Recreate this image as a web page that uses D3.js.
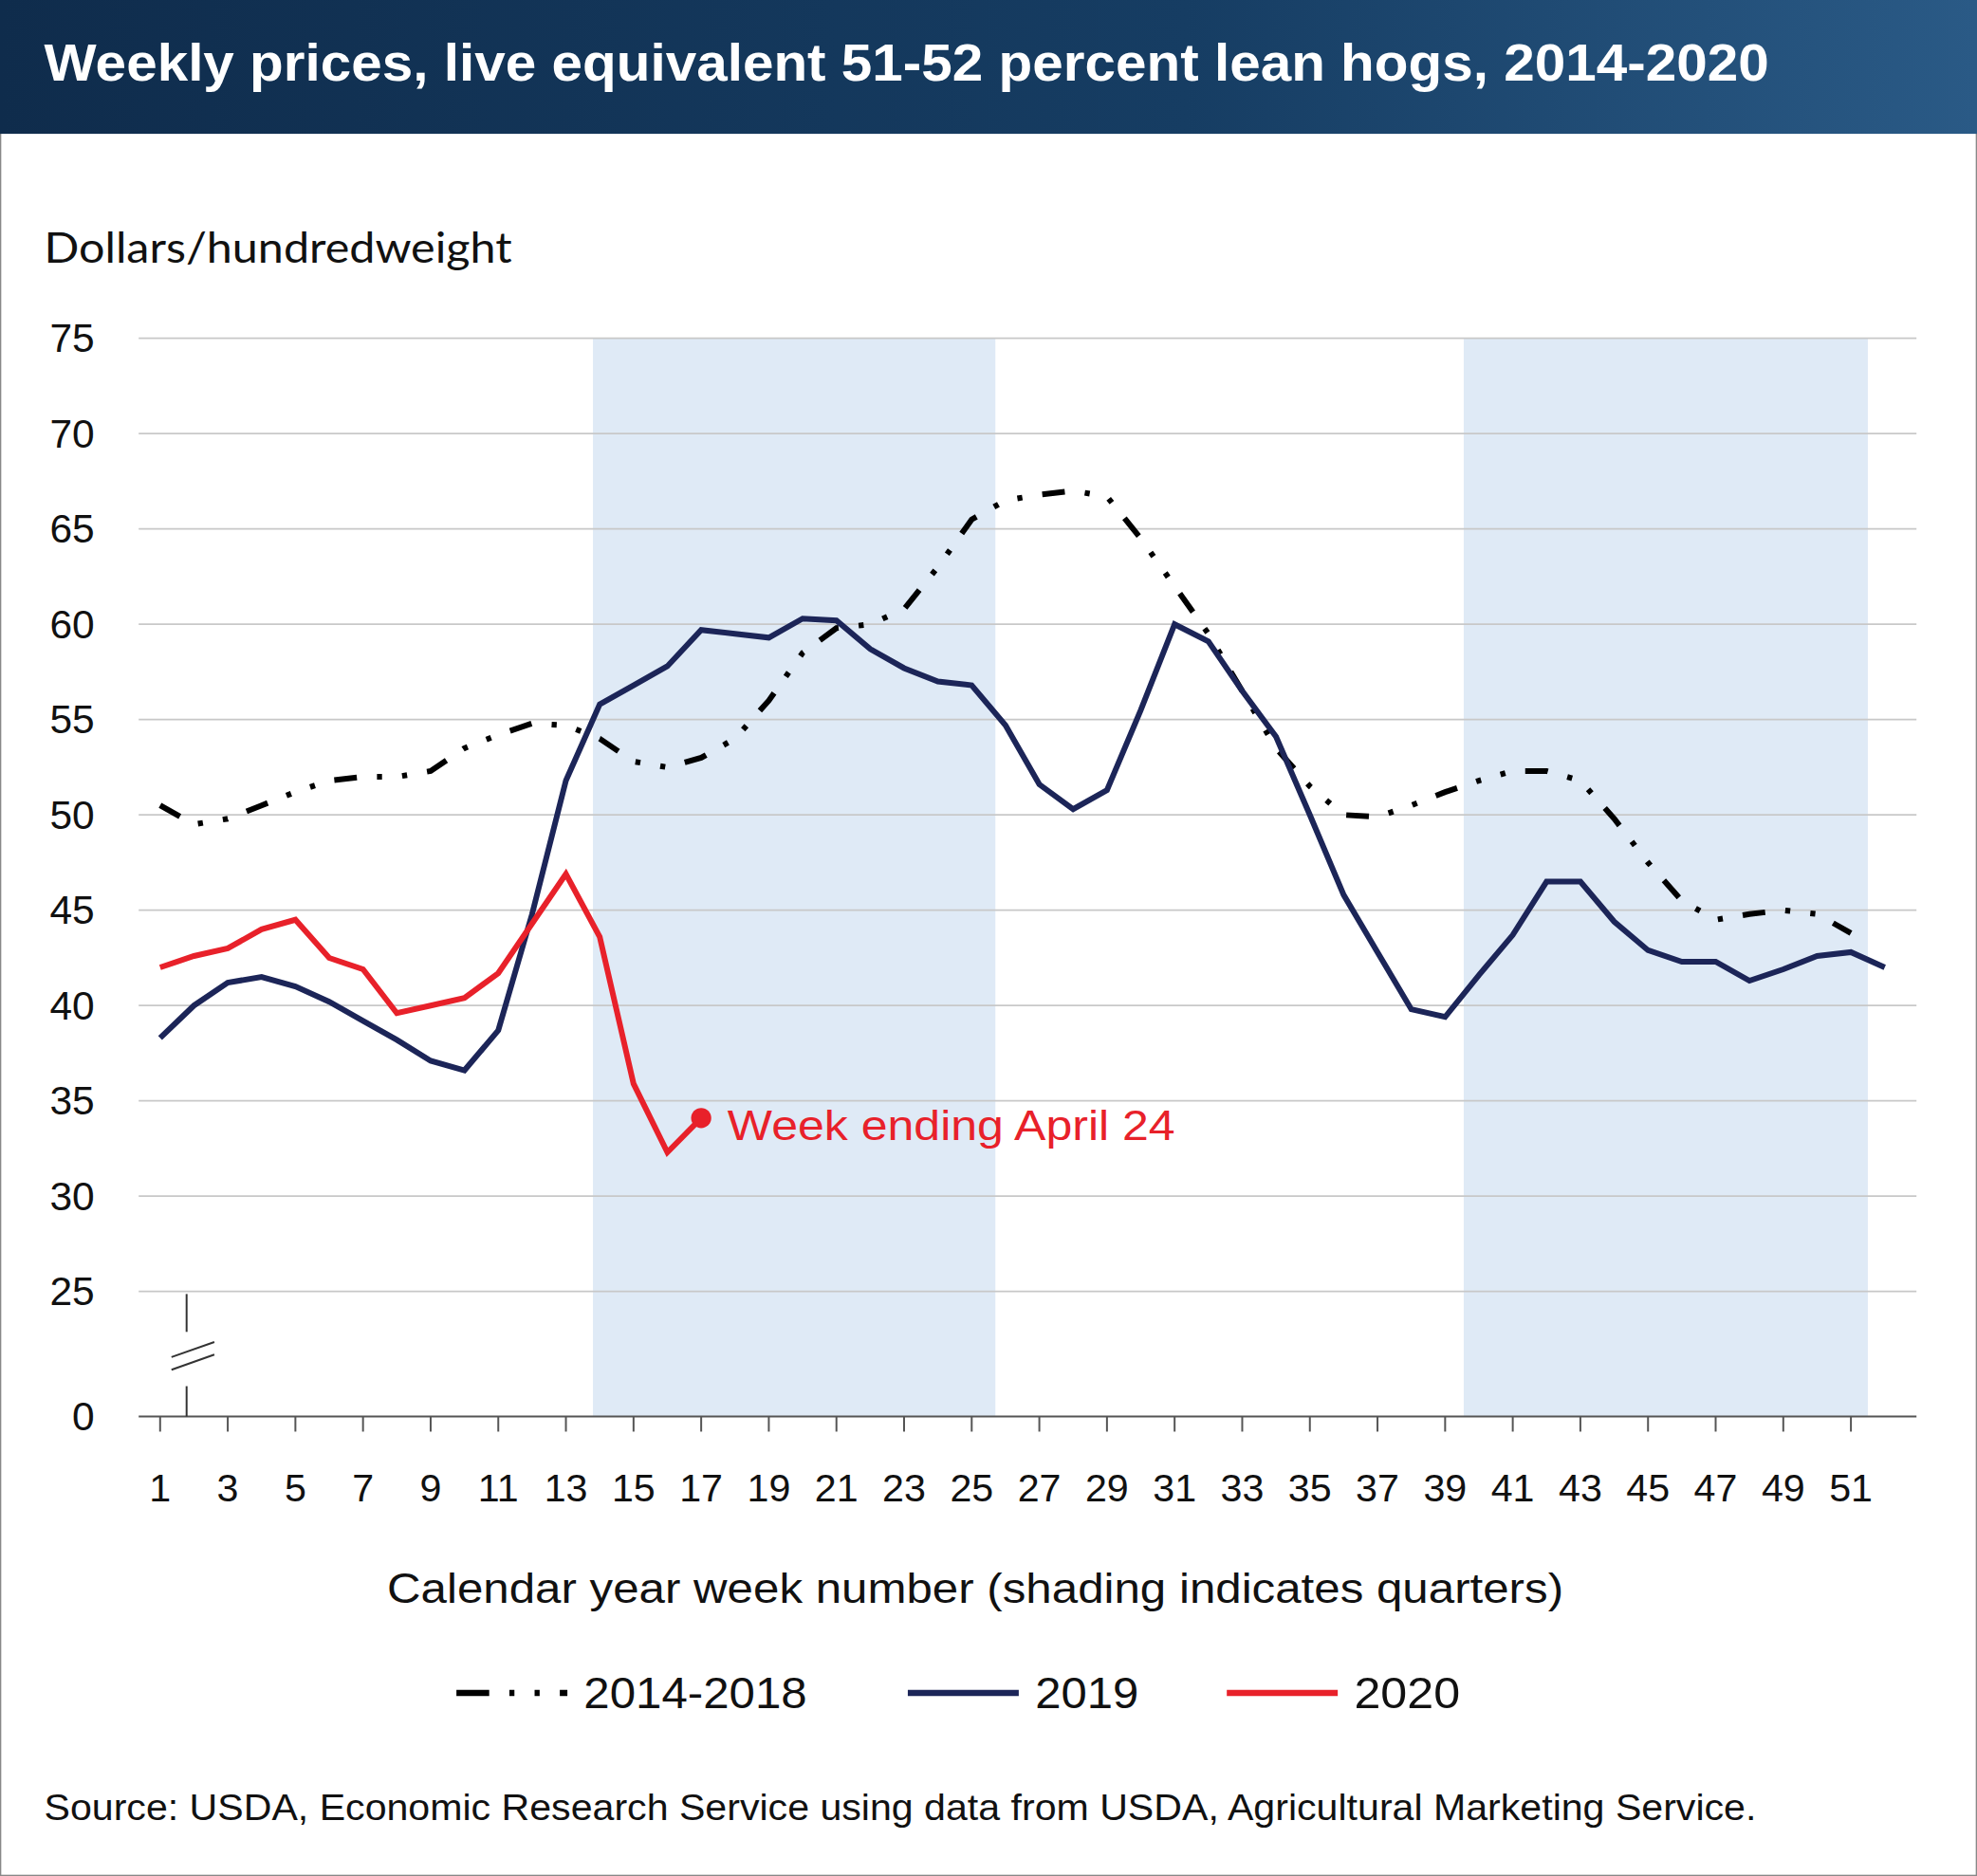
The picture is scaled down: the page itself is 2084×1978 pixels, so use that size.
<!DOCTYPE html>
<html><head><meta charset="utf-8">
<script src="https://cdn.jsdelivr.net/npm/d3@7"></script>
<style>body{margin:0;background:#fff}svg{display:block}</style></head>
<body><svg id="c" width="2084" height="1978" viewBox="0 0 1568 1486" preserveAspectRatio="none"></svg>
<script>
const weeks5yr=d3.range(1,52);
const avg5yr=[50.5,49.5,49.8,50.5,51.2,51.8,52,52,52.3,53.5,54.2,54.8,54.7,54.0,52.8,52.5,53,54,56,58.5,59.8,60,60.8,63,65.5,66.5,66.8,67,66.7,64.5,62,59.5,56.5,53.5,51.5,50,49.9,50.5,51.2,51.8,52.3,52.3,51.8,49.8,47.5,45.5,44.5,44.8,45,44.8,43.8];
const weeks2019=d3.range(1,53);
const v2019=[38.3,40,41.2,41.5,41,40.2,39.2,38.2,37.1,36.6,38.7,44.8,51.8,55.8,56.8,57.8,59.7,59.5,59.3,60.3,60.2,58.7,57.7,57,56.8,54.7,51.6,50.3,51.3,55.5,60,59.1,56.5,54.1,50,45.8,42.8,39.8,39.4,41.6,43.7,46.5,46.5,44.4,42.9,42.3,42.3,41.3,41.9,42.6,42.8,42.0];
const weeks2020=d3.range(1,18);
const v2020=[42,42.6,43,44,44.5,42.5,41.9,39.6,40,40.4,41.7,44.3,46.9,43.6,35.9,32.3,34.1];
const yTicks=[0,25,30,35,40,45,50,55,60,65,70,75];
const xTicks=d3.range(1,52,2);
const quarters=[[13.8,25.7],[39.55,51.5]];

const svg=d3.select("#c");
const defs=svg.append("defs");
const g=defs.append("linearGradient").attr("id","hg");
g.append("stop").attr("offset","0").attr("stop-color","#0f2c4c");
g.append("stop").attr("offset","0.6").attr("stop-color","#163d63");
g.append("stop").attr("offset","1").attr("stop-color","#2a5a86");
svg.append("rect").attr("x",0.5).attr("y",0.5).attr("width",1567).attr("height",1485).attr("fill","#fff").attr("stroke","#888");
svg.append("rect").attr("x",0).attr("y",0).attr("width",1568).attr("height",106).attr("fill","url(#hg)");
const F="Liberation Sans, Arial";
svg.append("text").attr("x",35).attr("y",64).attr("fill","#fff").attr("font-family",F).attr("font-weight","bold").attr("font-size",42).attr("textLength",1368).attr("lengthAdjust","spacingAndGlyphs").text("Weekly prices, live equivalent 51-52 percent lean hogs, 2014-2020");
svg.append("text").attr("x",35).attr("y",208).attr("fill","#111").attr("font-family","Lato, Open Sans").attr("font-size",33).attr("textLength",371).attr("lengthAdjust","spacingAndGlyphs").text("Dollars/hundredweight");

const x=d3.scaleLinear().domain([1,51]).range([127,1468]);
const ylin=d3.scaleLinear().domain([25,75]).range([1023,268]);
const y=v=>v>=25?ylin(v):1122-(v/25)*(1122-1023);

quarters.forEach(q=>svg.append("rect").attr("x",x(q[0])).attr("width",x(q[1])-x(q[0])).attr("y",268).attr("height",1122-268).attr("fill","#dfeaf6"));
yTicks.forEach(t=>{
  if(t>0) svg.append("line").attr("x1",110).attr("x2",1520).attr("y1",y(t)).attr("y2",y(t)).attr("stroke","#c8c8c8").attr("stroke-width",1.3);
  svg.append("text").attr("x",75).attr("y",y(t)+11).attr("text-anchor","end").attr("font-family",F).attr("font-size",32).attr("fill","#111").text(t);
});
svg.append("line").attr("x1",110).attr("x2",1520).attr("y1",1122).attr("y2",1122).attr("stroke","#555").attr("stroke-width",1.5);
xTicks.forEach(t=>{
  svg.append("line").attr("x1",x(t)).attr("x2",x(t)).attr("y1",1122).attr("y2",1134).attr("stroke","#555").attr("stroke-width",1.5);
  svg.append("text").attr("x",x(t)).attr("y",1189).attr("text-anchor","middle").attr("font-family",F).attr("font-size",31).attr("fill","#111").text(t);
});
svg.append("line").attr("x1",148).attr("x2",148).attr("y1",1025).attr("y2",1055).attr("stroke","#333").attr("stroke-width",1.5);
svg.append("line").attr("x1",148).attr("x2",148).attr("y1",1098).attr("y2",1122).attr("stroke","#333").attr("stroke-width",1.5);
[0,10].forEach(o=>svg.append("line").attr("x1",136).attr("x2",170).attr("y1",1075+o).attr("y2",1063+o).attr("stroke","#333").attr("stroke-width",1.5));

const line=d3.line().x(d=>x(d[0])).y(d=>y(d[1]));
svg.append("path").datum(weeks5yr.map((w,i)=>[w,avg5yr[i]])).attr("d",line).attr("fill","none").attr("stroke","#000").attr("stroke-width",4.5).attr("stroke-dasharray","18,16,4,16,4,16");
svg.append("path").datum(weeks2019.map((w,i)=>[w,v2019[i]])).attr("d",line).attr("fill","none").attr("stroke","#1c2558").attr("stroke-width",4.5);
svg.append("path").datum(weeks2020.map((w,i)=>[w,v2020[i]])).attr("d",line).attr("fill","none").attr("stroke","#e8212a").attr("stroke-width",4.5);
svg.append("circle").attr("cx",x(17)).attr("cy",y(34.1)).attr("r",8).attr("fill","#e8212a");
svg.append("text").attr("x",577).attr("y",903).attr("fill","#e8212a").attr("font-family",F).attr("font-size",34).attr("textLength",355).attr("lengthAdjust","spacingAndGlyphs").text("Week ending April 24");

svg.append("text").attr("x",307).attr("y",1270).attr("font-family",F).attr("font-size",33).attr("fill","#111").attr("textLength",933).attr("lengthAdjust","spacingAndGlyphs").text("Calendar year week number (shading indicates quarters)");
const leg=[["2014-2018","#000",true,362,177],["2019","#1c2558",false,720,82],["2020","#e8212a",false,973,84]];
leg.forEach(l=>{
  const ln=svg.append("line").attr("x1",l[3]).attr("x2",l[3]+88).attr("y1",1341).attr("y2",1341).attr("stroke",l[1]).attr("stroke-width",5);
  if(l[2]) ln.attr("stroke-dasharray","26,16,4,16,4,16");
  svg.append("text").attr("x",l[3]+101).attr("y",1353).attr("font-family",F).attr("font-size",35).attr("fill","#111").attr("textLength",l[4]).attr("lengthAdjust","spacingAndGlyphs").text(l[0]);
});
svg.append("text").attr("x",35).attr("y",1442).attr("font-family",F).attr("font-size",29).attr("fill","#111").attr("textLength",1358).attr("lengthAdjust","spacingAndGlyphs").text("Source: USDA, Economic Research Service using data from USDA, Agricultural Marketing Service.");
</script></body></html>
